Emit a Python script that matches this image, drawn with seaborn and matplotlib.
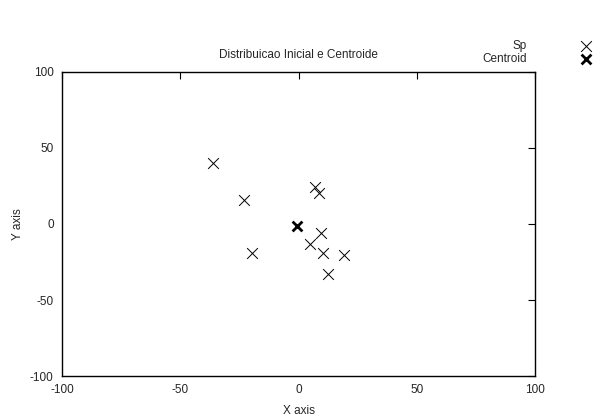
import matplotlib
matplotlib.use("Agg")
import matplotlib.pyplot as plt
import pandas as pd
import seaborn as sns

# initial distribution
sp_x = [-36.3, -22.9, -19.8, 7.0, 8.7, 9.5, 4.9, 10.2, 19.2, 12.3]
sp_y = [40.3, 15.6, -19.3, 24.5, 20.2, -6.1, -13.4, -19.3, -20.4, -33.1]
centroid_x = [-0.8]
centroid_y = [-1.3]

ticks = [-100, -50, 0, 50, 100]

sns.set_style("white")
plt.rcParams["font.family"] = ["Liberation Sans", "DejaVu Sans"]
plt.rcParams["font.size"] = 8.5
plt.rcParams["axes.unicode_minus"] = False

sp = pd.DataFrame({"x": sp_x, "y": sp_y})
cen = pd.DataFrame({"x": centroid_x, "y": centroid_y})

fig = plt.figure(figsize=(5.95, 4.19), dpi=100)
ax = fig.add_axes([0.1042, 0.1026, 0.7950, 0.7256])

sns.scatterplot(data=sp, x="x", y="y", marker="x", s=60, color="black",
                linewidth=0.7, label="Sp", ax=ax)
sns.scatterplot(data=cen, x="x", y="y", marker="x", s=50, color="black",
                linewidth=2.0, label="Centroid", ax=ax)

ax.set_xlim(-100, 100)
ax.set_ylim(-100, 100)
ax.set_xticks(ticks)
ax.set_yticks(ticks)
ax.tick_params(direction="in", length=5, width=0.8, top=True, right=True,
               labelsize=8.5, color="black", pad=6)
for s in ax.spines.values():
    s.set_color("black")
    s.set_linewidth(1.0)

ax.set_title("Distribuicao Inicial e Centroide", fontsize=8.5, pad=10)
ax.set_xlabel("X axis", fontsize=8.5, labelpad=6)
ax.set_ylabel("Y axis", fontsize=8.5, labelpad=4)

ax.legend(loc="upper right", bbox_to_anchor=(0.995, 0.905), bbox_transform=fig.transFigure,
          frameon=False, markerfirst=False, handlelength=1.0, handletextpad=4.5,
          borderpad=0.0, borderaxespad=0.0, labelspacing=0.1, fontsize=8.5)

fig.savefig("out.png", dpi=100)
plt.close(fig)
